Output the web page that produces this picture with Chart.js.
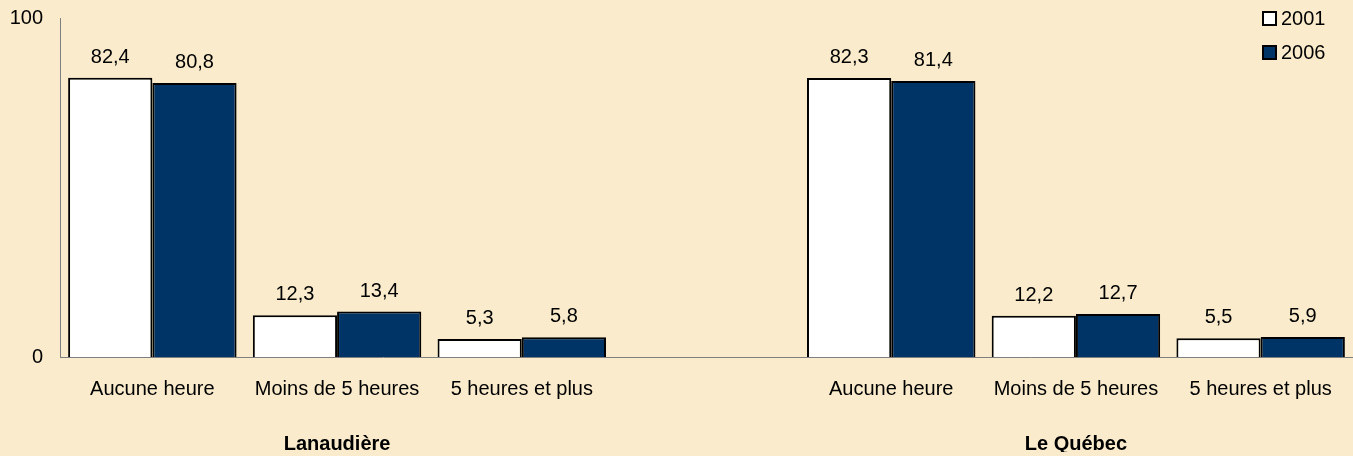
<!DOCTYPE html>
<html lang="fr">
<head>
<meta charset="utf-8">
<title>Heures par semaine</title>
<script src="https://cdn.jsdelivr.net/npm/chart.js@4/dist/chart.umd.min.js"></script>
<style>
  html, body { margin: 0; padding: 0; }
  body { width: 1353px; height: 456px; background: #f9ebcb; overflow: hidden; }
  #wrap { position: relative; width: 1353px; height: 456px; }
</style>
</head>
<body>
<div id="wrap"><canvas id="chart"></canvas></div>
<script>
// Data
const categories = ["Aucune heure", "Moins de 5 heures", "5 heures et plus", "", "Aucune heure", "Moins de 5 heures", "5 heures et plus"];
const groupLabels = ["", "Lanaudière", "", "", "", "Le Québec", ""];
const years = ["2001", "2006"];
const values2001 = [82.4, 12.3, 5.3, null, 82.3, 12.2, 5.5];
const values2006 = [80.8, 13.4, 5.8, null, 81.4, 12.7, 5.9];
const yTicks = [0, 100];

const FONT = "'Liberation Sans', Arial, sans-serif";
const fillColors = ["#ffffff", "#003366"];

function fmt(v) {
  return v.toFixed(1).replace(".", ",");
}

// labels above each bar
const valueLabels = {
  id: "valueLabels",
  afterDatasetsDraw(chart) {
    const c = chart.ctx;
    c.save();
    c.font = "20px " + FONT;
    c.fillStyle = "#000";
    c.textAlign = "center";
    c.textBaseline = "alphabetic";
    chart.data.datasets.forEach((ds, i) => {
      chart.getDatasetMeta(i).data.forEach((bar, j) => {
        const v = ds.data[j];
        if (v == null) return;
        c.fillText(fmt(v), bar.x, bar.y - 15);
      });
    });
    c.restore();
  }
};

// legend in the top right corner
const cornerLegend = {
  id: "cornerLegend",
  afterDraw(chart) {
    const c = chart.ctx;
    c.save();
    c.font = "20px " + FONT;
    c.textBaseline = "middle";
    chart.data.datasets.forEach((ds, i) => {
      const y = 12 + i * 34;
      c.fillStyle = ds.backgroundColor;
      c.fillRect(1263, y, 13, 13);
      c.strokeStyle = "#000";
      c.lineWidth = 2;
      c.strokeRect(1263, y, 13, 13);
      c.fillStyle = "#000";
      c.fillText(ds.label, 1281, y + 7);
    });
    c.restore();
  }
};

new Chart(document.getElementById("chart"), {
  type: "bar",
  data: {
    labels: categories,
    datasets: [
      { label: years[0], data: values2001, backgroundColor: fillColors[0], borderColor: "#000", borderWidth: 2 },
      { label: years[1], data: values2006, backgroundColor: fillColors[1], borderColor: "#000", borderWidth: 2 }
    ]
  },
  options: {
    responsive: true,
    maintainAspectRatio: false,
    animation: false,
    devicePixelRatio: 1,
    layout: { padding: { top: 18, right: -7, bottom: 4, left: 0 } },
    datasets: { bar: { categoryPercentage: 0.912, barPercentage: 1.0 } },
    plugins: { legend: { display: false }, tooltip: { enabled: false } },
    scales: {
      y: {
        min: 0, max: 100,
        afterBuildTicks: s => { s.ticks = yTicks.map(v => ({ value: v })); },
        afterFit: s => { s.width = 60; s.paddingTop = 0; s.paddingBottom = 0; },
        grid: { display: false, drawTicks: false },
        border: { display: true, color: "#7f7f7f", width: 1 },
        ticks: { color: "#000", padding: 17, font: { family: FONT, size: 20 } }
      },
      x: {
        offset: true,
        afterFit: s => { s.height = 42; },
        grid: { display: false, drawTicks: false },
        border: { display: true, color: "#7f7f7f", width: 1 },
        ticks: { color: "#000", padding: 20, autoSkip: false, maxRotation: 0, font: { family: FONT, size: 20 } }
      },
      x2: {
        type: "category",
        position: "bottom",
        labels: groupLabels,
        offset: true,
        afterFit: s => { s.height = 53; },
        grid: { display: false, drawTicks: false },
        border: { display: false },
        ticks: { color: "#000", padding: 33, autoSkip: false, maxRotation: 0, font: { family: FONT, size: 20, weight: "bold" } }
      }
    }
  },
  plugins: [valueLabels, cornerLegend]
});
</script>
</body>
</html>
